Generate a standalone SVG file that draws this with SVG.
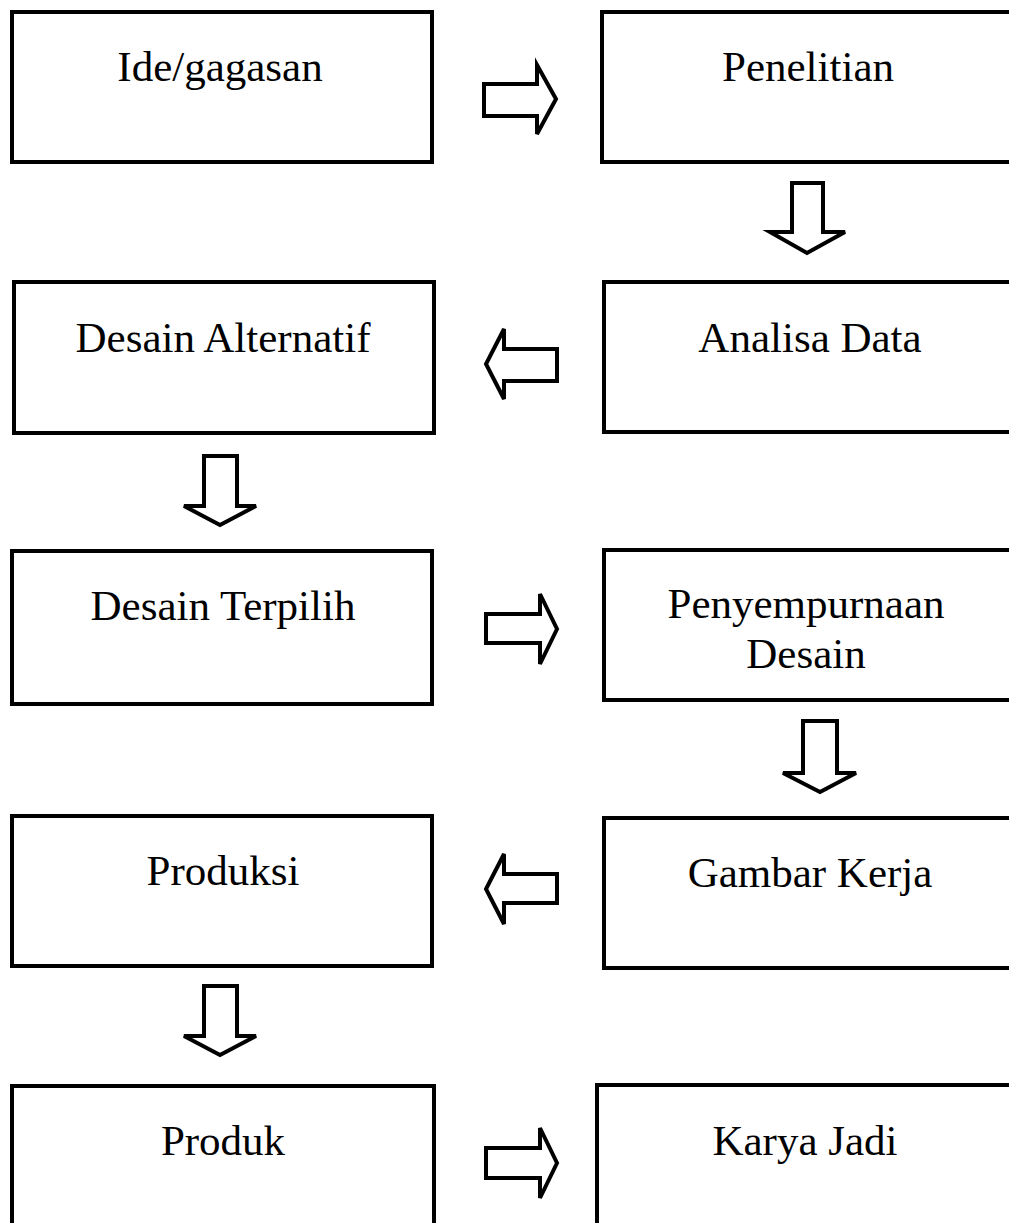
<svg xmlns="http://www.w3.org/2000/svg" width="1009" height="1223" viewBox="0 0 1009 1223">
<style>
.box{fill:#fff;stroke:#000;stroke-width:4}
.arr{fill:#fff;stroke:#000;stroke-width:4;stroke-linejoin:miter}
text{font-family:"Liberation Serif","Times New Roman",serif;font-size:43px;fill:#000;text-anchor:middle}
</style>
<rect width="1009" height="1223" fill="#fff"/>
<g id="n1"><rect class="box" x="12" y="12" width="420" height="150"/><text x="220" y="81">Ide/gagasan</text></g>
<g id="n2"><rect class="box" x="602" y="12" width="420" height="150"/><text x="808" y="81">Penelitian</text></g>
<g id="n3"><rect class="box" x="14" y="282" width="420" height="151"/><text x="223" y="352">Desain Alternatif</text></g>
<g id="n4"><rect class="box" x="604" y="282" width="420" height="150"/><text x="810" y="352">Analisa Data</text></g>
<g id="n5"><rect class="box" x="12" y="551" width="420" height="153"/><text x="223" y="620">Desain Terpilih</text></g>
<g id="n6"><rect class="box" x="604" y="550" width="420" height="150"/><text x="806" y="618">Penyempurnaan</text><text x="806" y="668">Desain</text></g>
<g id="n7"><rect class="box" x="12" y="816" width="420" height="150"/><text x="223" y="885">Produksi</text></g>
<g id="n8"><rect class="box" x="604" y="818" width="420" height="150"/><text x="810" y="887">Gambar Kerja</text></g>
<g id="n9"><rect class="box" x="12" y="1086" width="422" height="160"/><text x="223" y="1155">Produk</text></g>
<g id="n10"><rect class="box" x="597" y="1085" width="420" height="160"/><text x="805" y="1155">Karya Jadi</text></g>
<g id="connectors">
<polygon class="arr" points="484,84 537,84 537,65 556,99 537,134 537,116 484,116"/>
<polygon class="arr" points="792,183 823,183 823,232 845,232 807,253 770,232 792,232"/>
<polygon class="arr" points="557,349 504,349 504,329 486,364 504,399 504,381 557,381"/>
<polygon class="arr" points="204,456 237,456 237,506 256,506 220,525 184,506 204,506"/>
<polygon class="arr" points="486,614 540,614 540,594 557,629 540,664 540,643 486,643"/>
<polygon class="arr" points="803,721 837,721 837,773 856,773 820,792 783,773 803,773"/>
<polygon class="arr" points="557,874 504,874 504,854 486,889 504,924 504,903 557,903"/>
<polygon class="arr" points="204,986 237,986 237,1036 256,1036 220,1055 184,1036 204,1036"/>
<polygon class="arr" points="486,1148 540,1148 540,1128 557,1163 540,1198 540,1178 486,1178"/>
</g>
</svg>
